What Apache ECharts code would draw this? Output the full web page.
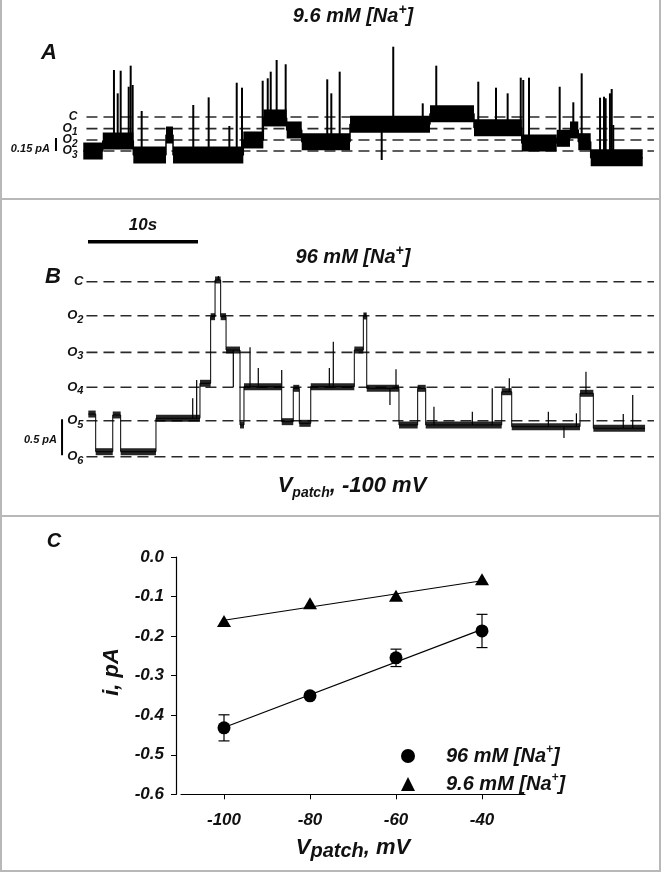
<!DOCTYPE html>
<html><head><meta charset="utf-8">
<script src="https://cdn.jsdelivr.net/npm/echarts@6/dist/echarts.min.js"></script>
<style>html,body{margin:0;padding:0;background:#fff}#c{width:661px;height:872px}</style>
</head><body><div id="c"></div>
<script>
// ---------- Panel A: 9.6 mM [Na+] trace (time s, current pA) ----------
const levelNamesA = ['C', 'O1', 'O2', 'O3'];
const levelsA = [0, -0.134, -0.264, -0.391];
// [tStart, tEnd, level]
const segmentsA = [
  [-0.43, 1.34, -0.391], [1.34, 4.12, -0.276], [4.12, 7.09, -0.437], [7.09, 7.73, -0.207],
  [7.73, 14.12, -0.437], [14.12, 15.94, -0.264], [15.94, 18.06, -0.011], [18.06, 19.43, -0.149],
  [19.43, 23.82, -0.284], [23.82, 31.09, -0.084], [31.09, 35.09, 0.038], [35.09, 39.43, -0.123],
  [39.43, 42.61, -0.299], [42.61, 43.82, -0.245], [43.82, 44.57, -0.149], [44.57, 45.7, -0.284],
  [45.7, 50.43, -0.468]
];
// [time, peak current]
const spikesA = [
  [2.36, 0.54], [2.7, 0.272], [2.97, 0.532], [3.7, 0.348], [3.88, 0.59], [4.06, 0.368],
  [4.88, 0.069], [9.57, 0.138], [10.97, 0.226], [12.85, -0.103], [13.52, 0.394], [14.0, 0.337],
  [15.88, 0.417], [16.34, 0.445], [16.61, 0.521], [17.15, 0.655], [17.97, 0.606],
  [21.75, 0.433], [22.12, 0.272], [22.88, 0.521], [26.7, -0.494], [27.75, 0.808],
  [30.43, 0.157], [31.66, 0.59], [35.48, 0.406], [37.09, 0.337], [38.15, 0.272],
  [39.34, 0.452], [39.57, 0.425], [40.09, 0.452], [42.88, 0.348], [44.12, 0.169],
  [44.88, 0.502], [46.55, 0.222], [46.91, 0.233], [47.06, 0.215], [47.45, 0.272],
  [47.61, 0.322], [47.75, -0.092]
];
const scaleBarA = 0.15; // pA

// ---------- Panel B: 96 mM [Na+] trace ----------
const levelNamesB = ['C', 'O2', 'O3', 'O4', 'O5', 'O6'];
const levelsB = [0, -0.472, -0.981, -1.467, -1.931, -2.431];
const segmentsB = [
  [0.03, 0.7, -1.838], [0.7, 2.25, -2.361], [2.25, 2.97, -1.851], [2.97, 6.18, -2.361],
  [6.18, 10.18, -1.897], [10.18, 11.15, -1.411], [11.15, 11.55, -0.486], [11.55, 12.06, 0.024],
  [12.06, 12.55, -0.486], [12.55, 13.82, -0.949], [13.82, 14.18, -1.99], [14.18, 17.61, -1.458],
  [17.61, 18.66, -1.944], [18.66, 19.21, -1.481], [19.21, 20.25, -1.967], [20.25, 24.21, -1.458],
  [24.21, 25.03, -0.949], [25.03, 25.34, -0.476], [25.34, 28.27, -1.481], [28.27, 29.97, -1.99],
  [29.97, 30.7, -1.481], [30.7, 37.61, -1.99], [37.61, 38.52, -1.528], [38.52, 44.73, -2.014],
  [44.73, 45.94, -1.55], [45.94, 50.64, -2.036]
];
const spikesB = [
  [9.52, -1.619], [9.88, -1.365], [11.85, 0.079], [13.21, -1.463], [14.73, -0.911],
  [15.48, -1.199], [17.61, -1.226], [21.94, -1.199], [22.3, -0.833], [25.2, -0.439],
  [27.45, -1.713], [28.0, -1.217], [31.45, -1.736], [34.94, -1.806], [36.75, -1.481],
  [38.3, -1.342], [41.85, -1.806], [43.27, -2.171], [44.4, -1.828], [45.27, -1.25],
  [48.66, -1.838], [49.52, -1.574]
];
const scaleBarB = 0.5; // pA
const timeBar = 10;    // s

// ---------- Panel C: i-V relation ----------
const voltages = [-100, -80, -60, -40];
const current96 = [-0.432, -0.351, -0.255, -0.187];
const sem96 = [0.033, 0.005, 0.022, 0.042];
const fit96 = [-0.431, -0.183];       // fitted line at -100 and -40 mV
const current9_6 = [-0.162, -0.117, -0.098, -0.056];
const fit9_6 = [-0.160, -0.060];
const xTicksC = [-100, -80, -60, -40];

// ---------- drawing ----------
const FF = 'Liberation Sans';
const chart = echarts.init(document.getElementById('c'), null, {renderer: 'canvas'});
const LINE_X0 = -0.14, LINE_X1 = 51.45;

function baseAt(segs, t) {
  let best = segs[0], d = Infinity;
  for (const s of segs) {
    if (t >= s[0] && t <= s[1]) return s[2];
    const dd = Math.min(Math.abs(t - s[0]), Math.abs(t - s[1]));
    if (dd < d) { d = dd; best = s; }
  }
  return best[2];
}
function stepPath(segs) {
  const out = [];
  segs.forEach(s => { out.push([s[0], s[2]]); out.push([s[1], s[2]]); });
  return out;
}
function richLabel(name) {
  return name.length > 1 ? '{o|' + name[0] + '}{s|' + name.slice(1) + '}' : '{o|' + name + '}';
}
function levelSeries(ai, levels, names, fs, rightGap) {
  return {
    type: 'custom', xAxisIndex: ai, yAxisIndex: ai, silent: true, z: 1,
    data: levels.map((L, i) => [LINE_X0, L, i]),
    encode: {x: 0, y: 1},
    renderItem: (params, api) => {
      const L = api.value(1);
      const a = api.coord([LINE_X0, L]), b = api.coord([LINE_X1, L]);
      return {type: 'group', children: [
        {type: 'line', shape: {x1: a[0], y1: a[1], x2: b[0], y2: b[1]},
         style: {stroke: '#2a2a2a', lineWidth: 1.6, lineDash: [11, 6]}},
        {type: 'text', x: a[0] - rightGap, y: a[1],
         style: {text: richLabel(names[params.dataIndex]), align: 'right', verticalAlign: 'middle',
           rich: {o: {fontFamily: FF, fontWeight: 'bold', fontStyle: 'italic', fontSize: fs, lineHeight: fs + 6, fill: '#111'},
                  s: {fontFamily: FF, fontWeight: 'bold', fontStyle: 'italic', fontSize: fs - 2, lineHeight: 8, verticalAlign: 'bottom', fill: '#111'}}}}
      ]};
    }
  };
}
function bandSeries(ai, segs, h, fill) {
  return {
    type: 'custom', xAxisIndex: ai, yAxisIndex: ai, silent: true, z: 3,
    data: segs, encode: {x: [0, 1], y: 2},
    renderItem: (params, api) => {
      const a = api.coord([api.value(0), api.value(2)]);
      const b = api.coord([api.value(1), api.value(2)]);
      return {type: 'rect', shape: {x: a[0], y: a[1] - h / 2, width: b[0] - a[0], height: h}, style: {fill: fill}};
    }
  };
}
function spikeSeries(ai, spikes, segs, w) {
  return {
    type: 'custom', xAxisIndex: ai, yAxisIndex: ai, silent: true, z: 4,
    data: spikes.map(s => [s[0], s[1], baseAt(segs, s[0])]),
    encode: {x: 0, y: [1, 2]},
    renderItem: (params, api) => {
      const a = api.coord([api.value(0), api.value(2)]);
      const b = api.coord([api.value(0), api.value(1)]);
      return {type: 'line', shape: {x1: a[0], y1: a[1], x2: b[0], y2: b[1]}, style: {stroke: '#000', lineWidth: w}};
    }
  };
}
function stepSeries(ai, segs, w) {
  return {type: 'line', xAxisIndex: ai, yAxisIndex: ai, data: stepPath(segs), showSymbol: false, silent: true, z: 4,
    lineStyle: {color: '#000', width: w}};
}
const boldItal = (fs, extra) => Object.assign({fontFamily: FF, fontWeight: 'bold', fontStyle: 'italic', fontSize: fs, fill: '#111'}, extra || {});

const legendRich = {
  t: {fontFamily: FF, fontWeight: 'bold', fontStyle: 'italic', fontSize: 20, lineHeight: 24, color: '#111'},
  p: {fontFamily: FF, fontWeight: 'bold', fontStyle: 'italic', fontSize: 12, lineHeight: 12, verticalAlign: 'top', color: '#111'}
};
const nameMap = {'96': '{t|96 mM [Na}{p|+}{t|]}', '9.6': '{t|9.6 mM [Na}{p|+}{t|]}'};

const option = {
  animation: false,
  backgroundColor: '#fff',
  grid: [
    {left: 0, top: 30, width: 661, height: 156.6},
    {left: 0, top: 231.3, width: 661, height: 252},
    {left: 181, top: 557, width: 344, height: 237.3}
  ],
  xAxis: [
    {gridIndex: 0, type: 'value', min: -8, max: 52.0909, show: false},
    {gridIndex: 1, type: 'value', min: -8, max: 52.0909, show: false},
    {gridIndex: 2, type: 'value', min: -110, max: -30, splitLine: {show: false},
     axisLine: {onZero: false, lineStyle: {color: '#000', width: 1.2}},
     axisTick: {customValues: xTicksC, inside: false, length: 5, lineStyle: {color: '#000'}},
     axisLabel: {customValues: xTicksC, margin: 18, color: '#111', fontFamily: FF, fontWeight: 'bold', fontStyle: 'italic', fontSize: 17}}
  ],
  yAxis: [
    {gridIndex: 0, type: 'value', min: -0.8, max: 1.0, show: false},
    {gridIndex: 1, type: 'value', min: -2.8, max: 0.7, show: false},
    {gridIndex: 2, type: 'value', min: -0.6, max: 0, interval: 0.1, offset: 5, splitLine: {show: false},
     axisLine: {show: true, onZero: false, lineStyle: {color: '#000', width: 1.2}},
     axisTick: {show: true, inside: false, length: 5, lineStyle: {color: '#000'}},
     axisLabel: {margin: 12, color: '#111', fontFamily: FF, fontWeight: 'bold', fontStyle: 'italic', fontSize: 17,
       formatter: v => v.toFixed(1)}}
  ],
  legend: {
    orient: 'vertical', left: 396, top: 739, itemGap: 6, itemWidth: 14, itemHeight: 14,
    data: [{name: '96', icon: 'circle'}, {name: '9.6', icon: 'triangle'}],
    formatter: n => nameMap[n],
    textStyle: {rich: legendRich, padding: [0, 0, 0, 26]},
    selectedMode: false
  },
  series: [
    // Panel A
    levelSeries(0, levelsA, levelNamesA, 12, 9),
    bandSeries(0, segmentsA, 17, '#000'),
    stepSeries(0, segmentsA, 1.5),
    spikeSeries(0, spikesA, segmentsA, 2),
    {type: 'line', xAxisIndex: 0, yAxisIndex: 0, showSymbol: false, silent: true,
     data: [[-2.91, levelsA[3]], [-2.91, levelsA[3] + scaleBarA]], lineStyle: {color: '#000', width: 2}},
    // Panel B
    levelSeries(1, levelsB, levelNamesB, 13, 3),
    bandSeries(1, segmentsB, 7, 'rgba(0,0,0,0.85)'),
    stepSeries(1, segmentsB, 1),
    spikeSeries(1, spikesB, segmentsB, 1.2),
    {type: 'line', xAxisIndex: 1, yAxisIndex: 1, showSymbol: false, silent: true,
     data: [[-2.36, levelsB[5] + 0.02], [-2.36, levelsB[5] + 0.02 + scaleBarB]], lineStyle: {color: '#000', width: 2}},
    {type: 'line', xAxisIndex: 1, yAxisIndex: 1, showSymbol: false, silent: true,
     data: [[0, 0.556], [timeBar, 0.556]], lineStyle: {color: '#000', width: 3.5}},
    // Panel C
    {name: 'fit96', type: 'line', xAxisIndex: 2, yAxisIndex: 2, showSymbol: false, silent: true,
     data: [[voltages[0], fit96[0]], [voltages[3], fit96[1]]], lineStyle: {color: '#000', width: 1.2}},
    {name: 'fit9.6', type: 'line', xAxisIndex: 2, yAxisIndex: 2, showSymbol: false, silent: true,
     data: [[voltages[0], fit9_6[0]], [voltages[3], fit9_6[1]]], lineStyle: {color: '#000', width: 1.2}},
    {name: 'err96', type: 'custom', xAxisIndex: 2, yAxisIndex: 2, silent: true,
     data: voltages.map((v, i) => [v, current96[i] - sem96[i], current96[i] + sem96[i]]),
     encode: {x: 0, y: [1, 2]},
     renderItem: (params, api) => {
       const lo = api.coord([api.value(0), api.value(1)]);
       const hi = api.coord([api.value(0), api.value(2)]);
       const st = {stroke: '#000', lineWidth: 1.2};
       return {type: 'group', children: [
         {type: 'line', shape: {x1: lo[0], y1: lo[1], x2: hi[0], y2: hi[1]}, style: st},
         {type: 'line', shape: {x1: lo[0] - 5.5, y1: lo[1], x2: lo[0] + 5.5, y2: lo[1]}, style: st},
         {type: 'line', shape: {x1: hi[0] - 5.5, y1: hi[1], x2: hi[0] + 5.5, y2: hi[1]}, style: st}
       ]};
     }},
    {name: '96', type: 'scatter', xAxisIndex: 2, yAxisIndex: 2, symbol: 'circle', symbolSize: 13,
     itemStyle: {color: '#000', opacity: 1}, data: voltages.map((v, i) => [v, current96[i]])},
    {name: '9.6', type: 'scatter', xAxisIndex: 2, yAxisIndex: 2, symbol: 'triangle', symbolSize: [14, 12],
     itemStyle: {color: '#000', opacity: 1}, data: voltages.map((v, i) => [v, current9_6[i]])}
  ],
  graphic: [
    {type: 'rect', silent: true, shape: {x: 1, y: -2, width: 659, height: 201}, style: {fill: 'none', stroke: '#b8b8b8', lineWidth: 2}},
    {type: 'rect', silent: true, shape: {x: 1, y: 199, width: 659, height: 317}, style: {fill: 'none', stroke: '#b8b8b8', lineWidth: 2}},
    {type: 'rect', silent: true, shape: {x: 1, y: 516, width: 659, height: 355}, style: {fill: 'none', stroke: '#b8b8b8', lineWidth: 2}},
    // Panel A texts
    {type: 'text', x: 353, y: 16, style: {text: '{t|9.6 mM [Na}{p|+}{t|]}', align: 'center', verticalAlign: 'middle',
      rich: {t: boldItal(20, {lineHeight: 26}), p: boldItal(14, {lineHeight: 12, verticalAlign: 'top'})}}},
    {type: 'text', x: 49, y: 53, style: boldItal(22, {text: 'A', align: 'center', verticalAlign: 'middle'})},
    {type: 'text', x: 50, y: 149, style: boldItal(11, {text: '0.15 pA', align: 'right', verticalAlign: 'middle'})},
    // Panel B texts
    {type: 'text', x: 143, y: 225, style: boldItal(17, {text: '10s', align: 'center', verticalAlign: 'middle'})},
    {type: 'text', x: 353, y: 257, style: {text: '{t|96 mM [Na}{p|+}{t|]}', align: 'center', verticalAlign: 'middle',
      rich: {t: boldItal(20, {lineHeight: 26}), p: boldItal(14, {lineHeight: 12, verticalAlign: 'top'})}}},
    {type: 'text', x: 53, y: 277, style: boldItal(22, {text: 'B', align: 'center', verticalAlign: 'middle'})},
    {type: 'text', x: 57, y: 440, style: boldItal(11, {text: '0.5 pA', align: 'right', verticalAlign: 'middle'})},
    {type: 'text', x: 352, y: 486, style: {text: '{v|V}{s|patch}{v|, -100 mV}', align: 'center', verticalAlign: 'middle',
      rich: {v: boldItal(22, {lineHeight: 28}), s: boldItal(14, {lineHeight: 6, verticalAlign: 'bottom'})}}},
    // Panel C texts
    {type: 'text', x: 54, y: 541, style: boldItal(20, {text: 'C', align: 'center', verticalAlign: 'middle'})},
    {type: 'text', x: 112, y: 672, rotation: Math.PI / 2, style: boldItal(22, {text: 'i, pA', align: 'center', verticalAlign: 'middle'})},
    {type: 'text', x: 353, y: 848, style: {text: '{v|V}{s|patch}{v|, mV}', align: 'center', verticalAlign: 'middle',
      rich: {v: boldItal(22, {lineHeight: 26}), s: boldItal(20, {lineHeight: 22, verticalAlign: 'bottom'})}}}
  ]
};
chart.setOption(option);
</script>
</body></html>
